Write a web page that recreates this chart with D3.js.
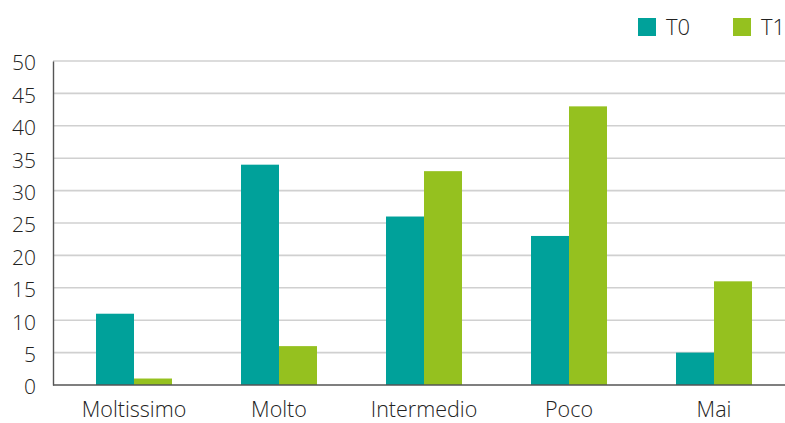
<!DOCTYPE html>
<html>
<head>
<meta charset="utf-8">
<script src="https://cdn.jsdelivr.net/npm/d3@7"></script>
<style>
  html, body { margin: 0; padding: 0; background: #fff; }
  svg { display: block; font-family: "Open Sans", "Noto Sans", sans-serif; font-weight: 300; }
</style>
</head>
<body>
<svg id="chart" width="785" height="423"></svg>
<script>
// Survey answers per category, two time points
const categories = ["Moltissimo", "Molto", "Intermedio", "Poco", "Mai"];
const seriesNames = ["T0", "T1"];
const valuesT0 = [11, 34, 26, 23, 5];
const valuesT1 = [1, 6, 33, 43, 16];
const yTicks = [0, 5, 10, 15, 20, 25, 30, 35, 40, 45, 50];

const colors = { T0: "#00a19a", T1: "#95c11f" };

const svg = d3.select("#chart");
const W = 785;
const axisX = 53, plotTop = 61, plotBottom = 385;

const x = d3.scaleBand().domain(categories).range([61.5, 786.5]).padding(0);
const x1 = d3.scaleBand().domain(seriesNames).range([0, 76]);
const groupOffset = (x.bandwidth() - 76) / 2;
const y = d3.scaleLinear().domain([0, 50]).range([plotBottom, plotTop]);

// Horizontal gridlines
svg.append("g").selectAll("line").data(yTicks.filter(d => d > 0)).join("line")
  .attr("x1", axisX).attr("x2", W)
  .attr("y1", d => y(d)).attr("y2", d => y(d))
  .attr("stroke", "#d0d0d0").attr("stroke-width", 1.6);

// Bars
const rows = categories.map((c, i) => ({ cat: c, T0: valuesT0[i], T1: valuesT1[i] }));
svg.append("g").selectAll("g").data(rows).join("g")
  .attr("transform", d => `translate(${x(d.cat) + groupOffset},0)`)
  .selectAll("rect")
  .data(d => seriesNames.map(k => ({ key: k, value: d[k] })))
  .join("rect")
  .attr("x", d => x1(d.key))
  .attr("width", x1.bandwidth())
  .attr("y", d => y(d.value))
  .attr("height", d => plotBottom - y(d.value))
  .attr("fill", d => colors[d.key]);

// Y axis
const yAxis = svg.append("g").attr("transform", `translate(${axisX},0)`)
  .call(d3.axisLeft(y).tickValues(yTicks).tickSize(0).tickPadding(17));
yAxis.select(".domain").attr("stroke", "#555").attr("stroke-width", 1.4);
yAxis.selectAll("text").attr("font-size", 21).attr("fill", "#222")
  .attr("dy", "0.42em")
  .attr("font-family", "'Open Sans', sans-serif");

// Baseline
svg.append("line").attr("x1", axisX).attr("x2", W)
  .attr("y1", plotBottom).attr("y2", plotBottom)
  .attr("stroke", "#555").attr("stroke-width", 1.6);

// Category labels
const xAxis = svg.append("g").attr("transform", `translate(0,${plotBottom})`)
  .call(d3.axisBottom(x).tickSize(0).tickPadding(17));
xAxis.select(".domain").remove();
xAxis.selectAll("text").attr("font-size", 21.5).attr("fill", "#222")
  .attr("font-family", "'Open Sans', sans-serif");

// Legend
const legend = svg.append("g").selectAll("g").data(seriesNames).join("g")
  .attr("transform", (d, i) => `translate(${638 + i * 95},18)`);
legend.append("rect").attr("width", 18).attr("height", 18).attr("fill", d => colors[d]);
legend.append("text").attr("x", 28).attr("y", 17).attr("font-size", 22)
  .attr("fill", "#222").text(d => d);
</script>
</body>
</html>
